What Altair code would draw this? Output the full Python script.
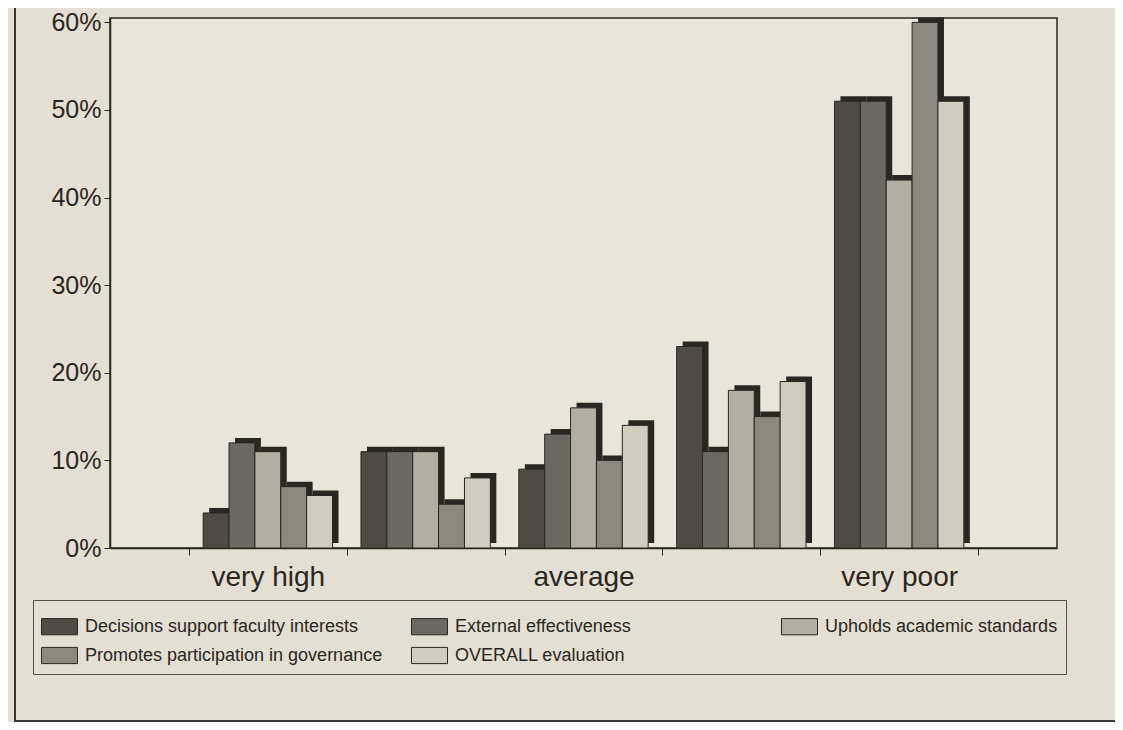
import altair as alt
import pandas as pd

categories = ["very high", "high", "average", "poor", "very poor"]
shown_labels = ["very high", "average", "very poor"]
series = [
    "Decisions support faculty interests",
    "External effectiveness",
    "Upholds academic standards",
    "Promotes participation in governance",
    "OVERALL evaluation",
]
decisions = [0.04, 0.11, 0.09, 0.23, 0.51]
external = [0.12, 0.11, 0.13, 0.11, 0.51]
upholds = [0.11, 0.11, 0.16, 0.18, 0.42]
promotes = [0.07, 0.05, 0.10, 0.15, 0.60]
overall = [0.06, 0.08, 0.14, 0.19, 0.51]
colors = ["#4f4a44", "#6c6862", "#b3ada2", "#8d887f", "#d2ccbf"]

rows = []
for s, vals in zip(series, [decisions, external, upholds, promotes, overall]):
    for c, v in zip(categories, vals):
        rows.append({"category": c, "series": s, "value": v})
df = pd.DataFrame(rows)

BG = "#e4dfd3"
INK = "#2a2622"
FONT = "Liberation Sans"

W, H = 947, 530
X_PAD_OUTER = 0.5
STEP = W / (len(categories) + 2 * X_PAD_OUTER)
DEPTH = 6

x_enc = alt.X(
    "category:N",
    sort=categories,
    title=None,
    scale=alt.Scale(paddingInner=0, paddingOuter=X_PAD_OUTER),
    axis=alt.Axis(
        labelExpr="indexof(" + str(shown_labels) + ", datum.label) >= 0 ? datum.label : ''",
        labelAngle=0,
        labelFontSize=28,
        labelFont=FONT,
        labelColor=INK,
        labelPadding=8,
        tickBand="extent",
        tickSize=7,
        tickColor=INK,
        domainColor=INK,
        domainWidth=1.5,
    ),
)
xo_bars = alt.XOffset(
    "series:N", sort=series, scale=alt.Scale(paddingInner=0, paddingOuter=0.55)
)
xo_shadow = alt.XOffset(
    "series:N",
    sort=series,
    scale=alt.Scale(paddingInner=0, paddingOuter=0.55, range=[DEPTH, STEP + DEPTH]),
)
y_enc = alt.Y(
    "value:Q",
    title=None,
    scale=alt.Scale(domain=[0, 0.605], nice=False),
    axis=alt.Axis(
        format=".0%",
        values=[0, 0.1, 0.2, 0.3, 0.4, 0.5, 0.6],
        labelFontSize=25,
        labelFont=FONT,
        labelColor=INK,
        tickSize=6,
        tickColor=INK,
        domainColor=INK,
        domainWidth=1.5,
        grid=False,
        labelPadding=3,
    ),
)

shadow = alt.Chart(df).mark_bar(color=INK, yOffset=-DEPTH + 1, clip=False).encode(
    x=x_enc, xOffset=xo_shadow, y=y_enc
)

bars = alt.Chart(df).mark_bar(stroke=INK, strokeWidth=1).encode(
    x=x_enc,
    xOffset=xo_bars,
    y=y_enc,
    fill=alt.Fill(
        "series:N",
        sort=series,
        scale=alt.Scale(domain=series, range=colors),
        legend=alt.Legend(
            title=None,
            orient="none",
            legendX=-77,
            legendY=582,
            direction="horizontal",
            columns=3,
            gridAlign="all",
            columnPadding=26,
            rowPadding=0,
            padding=8,
            labelFontSize=18,
            labelFont=FONT,
            labelColor=INK,
            labelLimit=400,
            labelOffset=7,
            symbolType="M-1,-0.45H1V0.45H-1Z",
            symbolSize=1296,
            symbolStrokeColor=INK,
            symbolStrokeWidth=1,
            symbolOpacity=1,
            fillColor=BG,
            strokeColor="#55504a",
        ),
    ),
)

frame_v = alt.Chart(df).mark_rule(color="#3a3632", strokeWidth=2).encode(
    x=alt.value(-95), y=alt.value(-18), y2=alt.value(704)
)
frame_h = alt.Chart(df).mark_rule(color="#3a3632", strokeWidth=2).encode(
    x=alt.value(-95), x2=alt.value(1020), y=alt.value(703)
)

chart = (
    alt.layer(frame_v, frame_h, shadow, bars)
    .resolve_scale(xOffset="independent")
    .properties(
        width=W,
        height=H,
        background=BG,
        autosize=alt.AutoSizeParams(type="none"),
        padding={"left": 102, "top": 10, "right": 58, "bottom": 174},
    )
    .configure_view(stroke=INK, strokeWidth=1.5, fill="#e9e5da")
)

chart.save("out.html", embed_options={"renderer": "svg", "actions": False})
